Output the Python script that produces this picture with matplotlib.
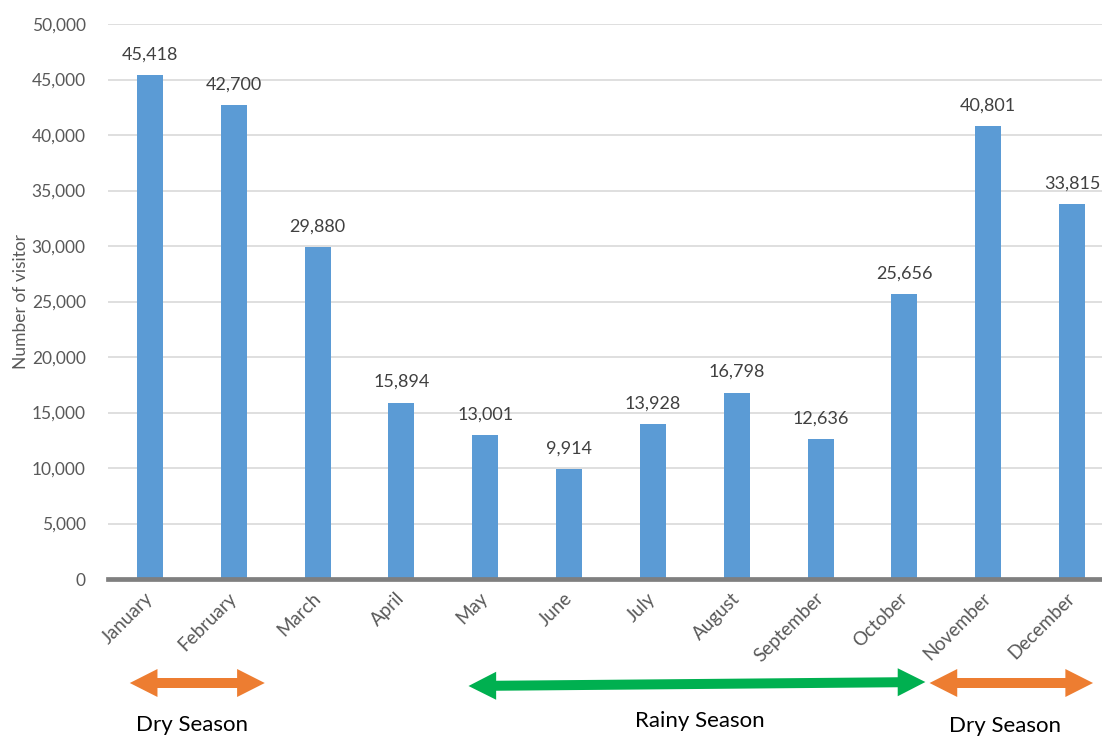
import matplotlib
matplotlib.use("Agg")
import matplotlib.pyplot as plt
from matplotlib.patches import Polygon
from matplotlib.ticker import FuncFormatter, MultipleLocator

months = ["January", "February", "March", "April", "May", "June", "July",
          "August", "September", "October", "November", "December"]
visitors = [45418, 42700, 29880, 15894, 13001, 9914, 13928, 16798, 12636,
            25656, 40801, 33815]
# seasons: (label, first month index, last month index, colour)
seasons = [("Dry Season", 0, 1, "#ED7D31"),
           ("Rainy Season", 4, 9, "#00B050"),
           ("Dry Season", 10, 11, "#ED7D31")]

plt.rcParams["font.family"] = ["Lato", "DejaVu Sans"]
BAR = "#5B9BD5"
GRID = "#D9D9D9"
TXT = "#595959"

fig = plt.figure(figsize=(11.02, 7.36), dpi=100)
ax = fig.add_axes([108 / 1102, 157 / 736, 1006 / 1102, 555 / 736])
x = list(range(len(months)))
bars = ax.bar(x, visitors, width=0.31, color=BAR, zorder=2)
ax.bar_label(bars, labels=[f"{v:,}" for v in visitors], padding=9,
             fontsize=13, color="#404040")

ax.set_xlim(-0.5, 11.5)
ax.set_ylim(0, 50000)
ax.yaxis.set_major_locator(MultipleLocator(5000))
ax.yaxis.set_major_formatter(FuncFormatter(lambda v, p: f"{int(v):,}"))
ax.grid(axis="y", color=GRID, lw=1.2, zorder=0)
ax.set_axisbelow(True)
for s in ["top", "right", "left"]:
    ax.spines[s].set_visible(False)
ax.spines["bottom"].set_color("#7F7F7F")
ax.spines["bottom"].set_linewidth(3.4)
ax.spines["bottom"].set_zorder(3)
ax.tick_params(axis="y", length=0, pad=16, labelsize=12.5, labelcolor=TXT)
ax.tick_params(axis="x", length=0, pad=8, labelsize=13.5, labelcolor=TXT)
ax.set_xticks(x)
ax.set_xticklabels(months, rotation=45, ha="right", va="center",
                   rotation_mode="anchor")
for lab in ax.get_xticklabels():
    lab.set_y(-0.01)
ax.set_ylabel("Number of visitor", fontsize=12.5, color=TXT, labelpad=2)

# double-headed season arrows below the month labels
px = 50000 / 555  # data units per pixel (vertical)


def double_arrow(x0, x1, y0, y1, color, head=0.33, hw=14, sw=5):
    hw, sw = hw * px, sw * px
    def yat(t):
        return y0 + (y1 - y0) * (t - x0) / (x1 - x0)
    a, b = x0 + head, x1 - head
    pts = [(x0, yat(x0)), (a, yat(a) + hw), (a, yat(a) + sw),
           (b, yat(b) + sw), (b, yat(b) + hw), (x1, yat(x1)),
           (b, yat(b) - hw), (b, yat(b) - sw), (a, yat(a) - sw),
           (a, yat(a) - hw)]
    ax.add_patch(Polygon(pts, closed=True, color=color, clip_on=False, lw=0))


arrow_ext = [(-0.24, 0.37, -104, -104), (-0.2, 0.25, -107, -103),
             (-0.7, 0.25, -104, -104)]
text_y = [-146, -142, -147]
text_dx = [0.0, 0.06, -0.3]
for (name, i0, i1, col), (l, r, ya, yb), ty, dx in zip(
        seasons, arrow_ext, text_y, text_dx):
    double_arrow(i0 + l, i1 + r, ya * px, yb * px, col)
    ax.text((i0 + i1) / 2 + dx, ty * px, name,
            ha="center", va="center", fontsize=16, color="black",
            clip_on=False)

fig.savefig("out.png", dpi=100)
